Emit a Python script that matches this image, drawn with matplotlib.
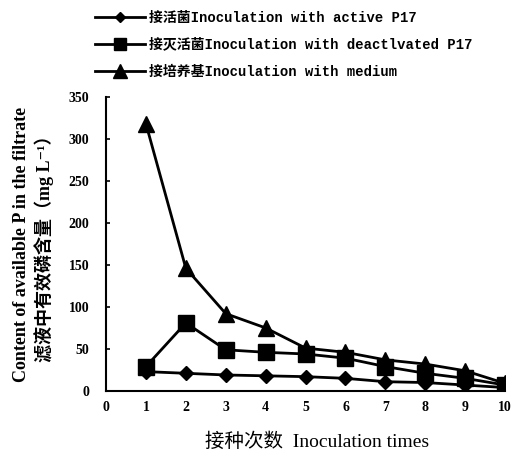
import matplotlib
matplotlib.use("Agg")
import matplotlib.pyplot as plt

times = [1, 2, 3, 4, 5, 6, 7, 8, 9, 10]
active = [23, 21, 19, 18, 17, 15, 11, 10, 7, 4]
deactivated = [29, 81, 49, 46, 44, 39, 29, 21, 15, 7]
medium = [318, 146, 92, 75, 51, 46, 37, 32, 24, 9]
labels = ["接活菌Inoculation with active P17",
          "接灭活菌Inoculation with deactlvated P17",
          "接培养基Inoculation with medium"]
yticks = [0, 50, 100, 150, 200, 250, 300, 350]
xticks = list(range(0, 11))

fig = plt.figure(figsize=(5.11, 4.53), dpi=100)
ax = fig.add_axes([0.2075, 0.137, 0.781, 0.649])

ax.plot(times, active, color="black", lw=2, marker="D", ms=7, label=labels[0])
ax.plot(times, deactivated, color="black", lw=2, marker="s", ms=11, label=labels[1])
ax.plot(times, medium, color="black", lw=2, marker="^", ms=12, label=labels[2])

ax.set_xlim(0, 10)
ax.set_ylim(0, 350)
ax.set_xticks(xticks)
ax.set_yticks(yticks)
ax.spines["top"].set_visible(False)
ax.spines["right"].set_visible(False)
ax.spines["left"].set_linewidth(1.5)
ax.spines["bottom"].set_linewidth(1.5)
ax.tick_params(axis="y", direction="in", length=3, width=1.2, pad=12)
ax.tick_params(axis="x", length=0, pad=7)
for t in ax.get_xticklabels() + ax.get_yticklabels():
    t.set_fontfamily(["Liberation Serif"])
    t.set_fontweight("bold")
    t.set_fontsize(10)

fam = ["Liberation Serif", "Noto Sans CJK SC", "DejaVu Serif"]
ax.set_xlabel("接种次数  Inoculation times", family=fam, fontsize=14)
ax.xaxis.set_label_coords(0.53, -0.14)
ax.set_ylabel("Content of available P in the filtrate\n滤液中有效磷含量（mg L⁻¹）",
              family=fam, fontweight="bold", fontsize=13, linespacing=1.3)
ax.yaxis.set_label_coords(-0.13, 0.5)

leg = fig.legend(loc="upper left", bbox_to_anchor=(0.165, 1.0), frameon=False,
                 handlelength=3.6, labelspacing=0.95, borderaxespad=0.35,
                 markerscale=0.8, handletextpad=0.3,
                 prop={"family": ["Liberation Mono", "Noto Sans CJK SC"],
                       "weight": "bold", "size": 10})

fig.savefig("out.png", dpi=100)
